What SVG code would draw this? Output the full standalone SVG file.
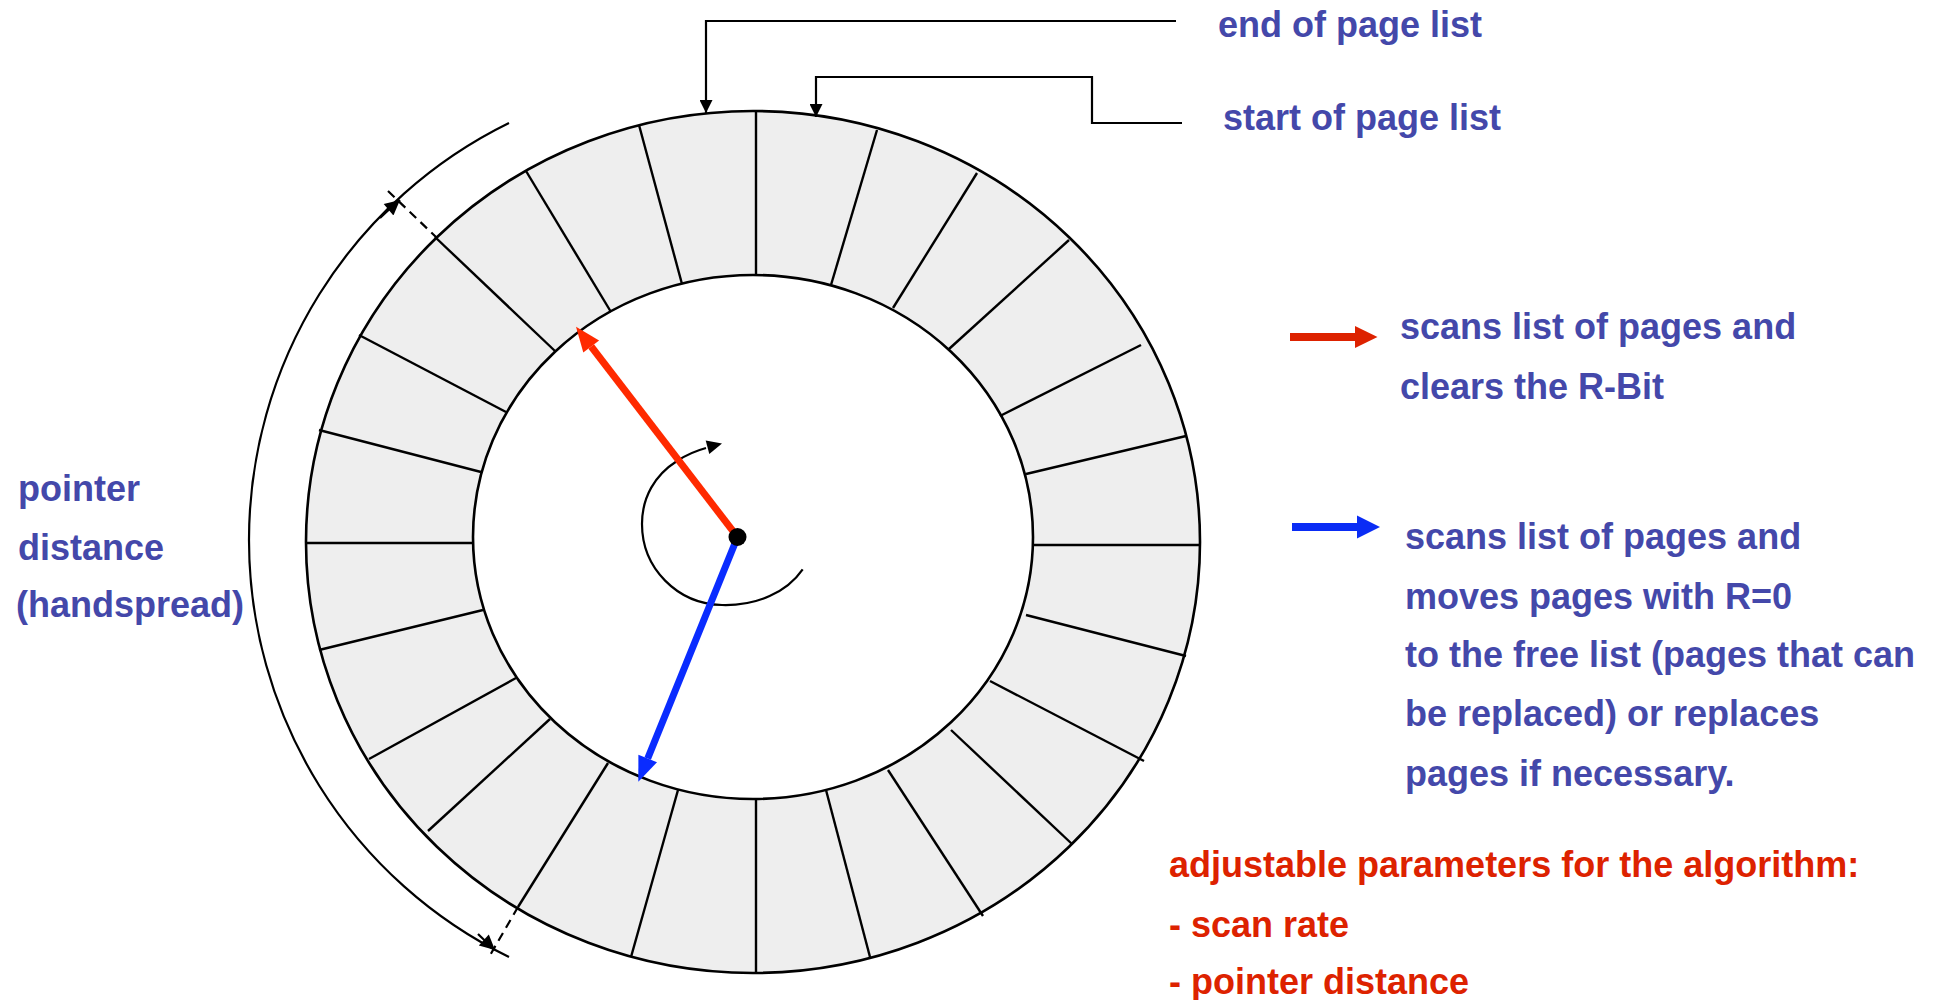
<svg xmlns="http://www.w3.org/2000/svg" width="1941" height="1000" viewBox="0 0 1941 1000">
<style>
.ring{fill:#EEEEEE;stroke:#000;stroke-width:2.6}
.hole{fill:#FFFFFF;stroke:#000;stroke-width:2.6}
.seg{stroke:#000;stroke-width:2.4;fill:none}
.conn{stroke:#000;stroke-width:2.2;fill:none}
.dash{stroke:#000;stroke-width:2.2;fill:none;stroke-dasharray:9 6}
.t{font-family:"Liberation Sans",Arial,sans-serif;font-weight:bold;font-size:36px}
.blue{fill:#4448AA}
.red{fill:#DD2200}
</style>
<defs>
<marker id="ah" viewBox="0 0 10 10" refX="10" refY="5" markerWidth="13" markerHeight="13" markerUnits="userSpaceOnUse" orient="auto">
<path d="M0,0 L10,5 L0,10 Z" fill="#000"/>
</marker>
<marker id="ahs" viewBox="0 0 10 10" refX="10" refY="5" markerWidth="17" markerHeight="15" markerUnits="userSpaceOnUse" orient="auto">
<path d="M0,0 L10,5 L0,10 Z" fill="#000"/>
</marker>
</defs>
<rect width="1941" height="1000" fill="#FFFFFF"/>
<g id="ring">
<ellipse class="ring" cx="753" cy="542" rx="447" ry="431"/>
<ellipse class="hole" cx="753" cy="537" rx="280" ry="262"/>
<g id="segments">
<line class="seg" x1="756" y1="275" x2="756" y2="111"/>
<line class="seg" x1="831" y1="285" x2="877" y2="130"/>
<line class="seg" x1="893" y1="308" x2="977" y2="173"/>
<line class="seg" x1="949" y1="349" x2="1069" y2="240"/>
<line class="seg" x1="1000" y1="416" x2="1141" y2="345"/>
<line class="seg" x1="1026" y1="474" x2="1186" y2="436"/>
<line class="seg" x1="1033" y1="545" x2="1200" y2="545"/>
<line class="seg" x1="1026" y1="615" x2="1186" y2="656"/>
<line class="seg" x1="990" y1="681" x2="1144" y2="761"/>
<line class="seg" x1="951" y1="730" x2="1072" y2="844"/>
<line class="seg" x1="888" y1="770" x2="983" y2="916"/>
<line class="seg" x1="826" y1="790" x2="870" y2="957"/>
<line class="seg" x1="756" y1="799" x2="756" y2="973"/>
<line class="seg" x1="678" y1="790" x2="631" y2="957"/>
<line class="seg" x1="608" y1="763" x2="518" y2="907"/>
<line class="seg" x1="550" y1="719" x2="428" y2="831"/>
<line class="seg" x1="516" y1="678" x2="369" y2="759"/>
<line class="seg" x1="483" y1="610" x2="319" y2="650"/>
<line class="seg" x1="473" y1="543" x2="306" y2="543"/>
<line class="seg" x1="481" y1="472" x2="319" y2="430"/>
<line class="seg" x1="506" y1="412" x2="359" y2="335"/>
<line class="seg" x1="555" y1="351" x2="435" y2="237"/>
<line class="seg" x1="611" y1="312" x2="526" y2="171"/>
<line class="seg" x1="682" y1="284" x2="639" y2="125"/>
</g>
</g>
<g id="connectors">
<path class="conn" d="M1176,21 L706,21 L706,113" marker-end="url(#ah)"/>
<path class="conn" d="M1182,123 L1092,123 L1092,77 L816,77 L816,117" marker-end="url(#ah)"/>
<path class="conn" d="M509,123 A464.4,464.4 0 0 0 509,957"/>
<path class="conn" d="M380,218 A464.4,464.4 0 0 1 400,200" marker-end="url(#ahs)"/>
<path class="conn" d="M478,934 A464.4,464.4 0 0 0 495,950" marker-end="url(#ahs)"/>
<line class="dash" x1="388" y1="191" x2="436" y2="237"/>
<line class="dash" x1="518" y1="907" x2="489" y2="957"/>
<path class="conn" d="M802.7,569.3 C787,592 757,606 722,605 C677,604 642,568 642,524 C642,497 655,475 677,461 C686,455 695,451 706,448"/>
<polygon points="722,443.5 709.3,454.1 705.7,440.5" fill="#000"/>
</g>
<g id="pointers">
<line x1="737.5" y1="537" x2="591.2" y2="346.5" stroke="#FF2A00" stroke-width="7"/>
<polygon points="576,326.7 599.1,340.4 583.3,352.6" fill="#FF2A00"/>
<line x1="737.5" y1="537" x2="647.7" y2="758.5" stroke="#0A2CFF" stroke-width="7"/>
<polygon points="638.3,781.7 657,762.3 638.4,754.7" fill="#0A2CFF"/>
<circle cx="737.5" cy="537" r="9" fill="#000"/>
</g>
<g id="label-end">
<text class="t blue" x="1218" y="37">end of page list</text>
</g>
<g id="label-start">
<text class="t blue" x="1223" y="130">start of page list</text>
</g>
<g id="label-distance">
<text class="t blue" x="18" y="501">pointer</text>
<text class="t blue" x="18" y="560">distance</text>
<text class="t blue" x="16" y="617">(handspread)</text>
</g>
<g id="legend-red">
<line x1="1290" y1="337" x2="1356" y2="337" stroke="#DD2200" stroke-width="8"/>
<polygon points="1377.5,337 1355,326 1355,348" fill="#DD2200"/>
<text class="t blue" x="1400" y="339">scans list of pages and</text>
<text class="t blue" x="1400" y="399">clears the R-Bit</text>
</g>
<g id="legend-blue">
<line x1="1292" y1="527" x2="1358" y2="527" stroke="#0A2CF5" stroke-width="8"/>
<polygon points="1380,527 1357,515.5 1357,538.5" fill="#0A2CF5"/>
<text class="t blue" x="1405" y="549">scans list of pages and</text>
<text class="t blue" x="1405" y="609">moves pages with R=0</text>
<text class="t blue" x="1405" y="667">to the free list (pages that can</text>
<text class="t blue" x="1405" y="726">be replaced) or replaces</text>
<text class="t blue" x="1405" y="786">pages if necessary.</text>
</g>
<g id="parameters">
<text class="t red" x="1169" y="877">adjustable parameters for the algorithm:</text>
<text class="t red" x="1169" y="937">- scan rate</text>
<text class="t red" x="1169" y="994">- pointer distance</text>
</g>
</svg>
